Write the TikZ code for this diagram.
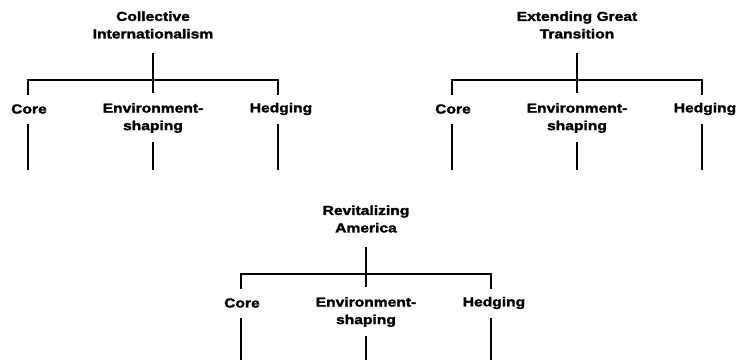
\documentclass[tikz,border=0pt]{standalone}
\usepackage{fontspec}
\newfontfamily\lblfont{Liberation Sans Bold}[FakeStretch=1.2,FakeBold=2]
\begin{document}
\begin{tikzpicture}[x=1pt,y=-1pt,
  lbl/.style={font=\lblfont\fontsize{13}{17.5}\selectfont, align=center, inner sep=0pt},
  tline/.style={line width=2.4pt},
  hbar/.style={line width=2pt, line join=miter}]
\useasboundingbox (0,0) rectangle (740,360);
\newcommand\stratTree[5]{%
 \begin{scope}[shift={(#1,#2)}]
  \node[lbl] (#4t) at (0,-55) {#3};
  \coordinate (#4s) at (0,-27);
  \coordinate (#4j) at (0,13);
  \coordinate (#4bl) at (-125,0);
  \coordinate (#4br) at (125,0);
  \coordinate (#4dl) at (-125,15);
  \coordinate (#4dr) at (125,15);
  \node[lbl] (#4c) at (-124,29) {Core};
  \node[lbl] (#4e) at (0,38) {Environment-\\shaping};
  \node[lbl] (#4h) at (128,29) {Hedging};
  \coordinate (#4ca) at (-125,44);
  \coordinate (#4cb) at (-125,#5);
  \coordinate (#4ea) at (0,62);
  \coordinate (#4eb) at (0,#5);
  \coordinate (#4ha) at (125,44);
  \coordinate (#4hb) at (125,#5);
  \draw[tline] (#4s) -- (#4j);
  \draw[hbar] (#4dl) -- (#4bl) -- (#4br) -- (#4dr);
  \draw[tline] (#4ca) -- (#4cb);
  \draw[tline] (#4ea) -- (#4eb);
  \draw[tline] (#4ha) -- (#4hb);
 \end{scope}}
\stratTree{153}{80}{Collective\\Internationalism}{a}{90}
\stratTree{577}{80}{Extending Great\\Transition}{b}{90}
\stratTree{366}{274}{Revitalizing\\America}{c}{86}
\end{tikzpicture}
\end{document}
